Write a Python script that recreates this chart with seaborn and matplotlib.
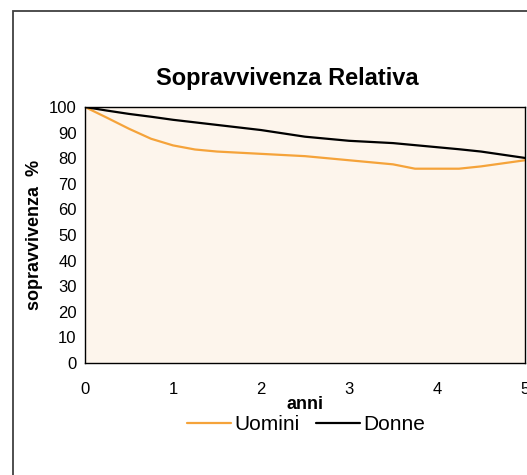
import numpy as np
import pandas as pd
import matplotlib
matplotlib.use("Agg")
import matplotlib.pyplot as plt
import seaborn as sns
from matplotlib.patches import Rectangle

# data
anni = [0, 0.25, 0.5, 0.75, 1, 1.25, 1.5, 2, 2.5, 3, 3.5, 3.75, 4, 4.25, 4.5, 5]
uomini = [100, 95.8, 91.5, 87.6, 85.0, 83.4, 82.6, 81.7, 80.8, 79.2, 77.6, 75.9, 75.9, 75.9, 76.8, 79.2]
donne = [100, 98.6, 97.3, 96.2, 95.0, 94.0, 93.0, 91.0, 88.4, 86.8, 85.9, 85.1, 84.3, 83.5, 82.6, 80.1]
series_names = ["Uomini", "Donne"]
colors = ["#F5A33A", "#000000"]

df = pd.DataFrame({
    "anni": anni * 2,
    "valore": uomini + donne,
    "serie": ["Uomini"] * len(anni) + ["Donne"] * len(anni),
})

sns.set_theme(style="white", rc={"text.color": "black", "axes.labelcolor": "black",
                                 "xtick.color": "black", "ytick.color": "black"})
plt.rcParams['font.family'] = ['Liberation Sans', 'DejaVu Sans']

fig = plt.figure(figsize=(5.27, 4.75), dpi=100)
ax = fig.add_axes([85 / 527, 1 - 363 / 475, 440 / 527, 256 / 475])
ax.set_facecolor("#FDF5EC")

sns.lineplot(data=df, x="anni", y="valore", hue="serie", hue_order=series_names,
             palette=colors, linewidth=1.6, ax=ax, legend=False)

ax.set_xlim(0, 5)
ax.set_ylim(0, 100)
ax.set_xticks(range(0, 6))
ax.set_yticks(range(0, 101, 10))
for s in ax.spines.values():
    s.set_color("black")
    s.set_linewidth(1.0)
ax.tick_params(axis="both", direction="out", length=5, width=0.8, color="black",
               labelsize=12, labelcolor="black")
ax.tick_params(axis="x", pad=9)
ax.tick_params(axis="y", pad=1)
ax.set_xlabel("anni", fontsize=13, fontweight="bold", labelpad=-1)
ax.set_ylabel("sopravvivenza  %", fontsize=13, fontweight="bold", labelpad=4)

fig.text(287 / 527, 1 - 79 / 475, "Sopravvivenza Relativa", ha="center", va="center",
         fontsize=17, fontweight="bold")

handles = [plt.Line2D([], [], color=c, linewidth=1.6) for c in colors]
fig.legend(handles, series_names, loc="center", bbox_to_anchor=(306 / 527, 1 - 425 / 475),
           ncol=2, frameon=False, fontsize=15, handlelength=2.1, handletextpad=0.15,
           columnspacing=0.8)

# outer chart frame, cut off at right and bottom
fig.patches.append(Rectangle((13 / 527, -0.1), 1.2, 1.1 - 11 / 475, transform=fig.transFigure,
                             fill=False, edgecolor="#404040", linewidth=1.3))

fig.savefig("out.png", dpi=100)
